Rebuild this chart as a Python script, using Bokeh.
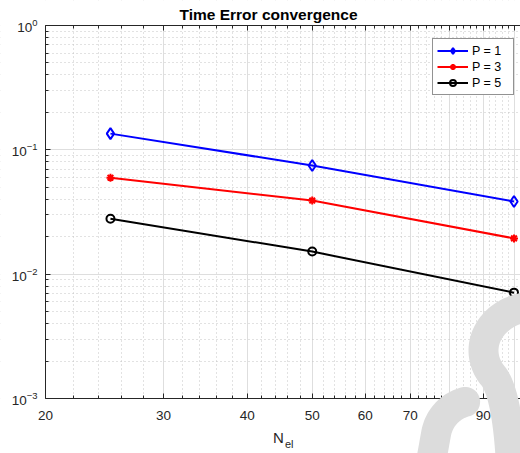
import numpy as np
from bokeh.plotting import figure
from bokeh.models import (Range1d, LogAxis, FixedTicker, LogTickFormatter, BasicTickFormatter,
                          Legend, LegendItem, Label, PolyAnnotation, BoxAnnotation)
from bokeh.embed import file_html
from bokeh.resources import INLINE

# --- data -------------------------------------------------------------
n_el = [25, 50, 100]
err_p1 = [0.135, 0.0748, 0.0384]
err_p3 = [0.0597, 0.0391, 0.0194]
err_p5 = [0.0279, 0.0152, 0.0071]
series_labels = ["P = 1", "P = 3", "P = 5"]

x_ticks = [20, 30, 40, 50, 60, 70, 80, 90, 100]
x_minor_ticks = [v for v in range(22, 100, 2) if v % 10]
y_ticks = [1e-3, 1e-2, 1e-1, 1e0]
y_minor_ticks = [m * 10.0 ** e for e in (-3, -2, -1) for m in range(2, 10)]
x_lim = (20, 100)
y_lim = (1e-3, 1e0)

FONT = "Liberation Sans"
AX = "#262626"

# The plotting frame covers the whole canvas; the axes box is placed inside it
# (pixel edges below) and the axes are pinned to the box edges.
W, H = 520, 453
BOX_L, BOX_R, BOX_T, BOX_B = 45, 513.5, 25, 398
ppd_x = (BOX_R - BOX_L) / np.log10(x_lim[1] / x_lim[0])
ppd_y = (BOX_B - BOX_T) / np.log10(y_lim[1] / y_lim[0])
x_range = Range1d(x_lim[0] / 10 ** (BOX_L / ppd_x), x_lim[1] * 10 ** ((W - BOX_R) / ppd_x))
y_range = Range1d(y_lim[0] / 10 ** ((H - BOX_B) / ppd_y), y_lim[1] * 10 ** (BOX_T / ppd_y))

p = figure(width=W, height=H, x_axis_type="log", y_axis_type="log",
           x_range=x_range, y_range=y_range,
           output_backend="svg", toolbar_location=None,
           min_border_left=0, min_border_right=0, min_border_top=0, min_border_bottom=0)
p.outline_line_color = None
p.background_fill_color = "white"
p.border_fill_color = "white"

xt = FixedTicker(ticks=x_ticks, minor_ticks=x_minor_ticks)
yt = FixedTicker(ticks=y_ticks, minor_ticks=y_minor_ticks)


def style_axis(ax):
    ax.axis_line_color = AX
    ax.axis_line_width = 1
    ax.major_tick_line_color = AX
    ax.minor_tick_line_color = AX
    ax.major_tick_in = 5
    ax.major_tick_out = 0
    ax.minor_tick_in = 3
    ax.minor_tick_out = 0
    ax.major_label_text_font = FONT
    ax.major_label_text_font_size = "13.5px"
    ax.major_label_text_color = AX


xa = p.xaxis[0]
xa.ticker = xt
xa.formatter = BasicTickFormatter()
xa.fixed_location = y_lim[0]
xa.bounds = (x_lim[0], x_range.end)
style_axis(xa)
xa.major_label_standoff = 12

ya = p.yaxis[0]
ya.ticker = yt
ya.formatter = LogTickFormatter()
ya.fixed_location = x_lim[0]
ya.bounds = y_lim
style_axis(ya)
ya.major_label_standoff = 8

top = LogAxis(ticker=xt, formatter=BasicTickFormatter(), fixed_location=y_lim[1],
              bounds=(x_lim[0], x_range.end))
style_axis(top)
top.major_label_text_color = None
top.major_label_standoff = 0
p.add_layout(top, "above")

for g, t in ((p.xgrid[0], xt), (p.ygrid[0], yt)):
    g.ticker = t
    g.grid_line_color = "#dedede"
    g.grid_line_width = 1
    g.minor_grid_line_color = "#c4c4c4"
    g.minor_grid_line_dash = "1 3"
    g.minor_grid_line_width = 1

# keep the grid inside the axes box
for box in (dict(top=y_lim[0]), dict(bottom=y_lim[1]), dict(right=x_lim[0])):
    p.add_layout(BoxAnnotation(**box, fill_color="white", fill_alpha=1,
                               line_color=None, level="underlay"))

# --- series -----------------------------------------------------------
styles = [
    (err_p1, "#0000ff", "diamond", 11),
    (err_p3, "#ff0000", "asterisk", 8),
    (err_p5, "#000000", "circle", 8),
]
items = []
for (vals, color, marker, size), lab in zip(styles, series_labels):
    ln = p.line(n_el, vals, line_color=color, line_width=2)
    sc = p.scatter(n_el, vals, marker=marker, size=size, line_color=color,
                   fill_color=None, line_width=2)
    items.append(LegendItem(label=lab, renderers=[ln, sc]))

legend = Legend(items=items, location=(432, 358))
legend.border_line_color = AX
legend.border_line_width = 1
legend.background_fill_color = "white"
legend.background_fill_alpha = 1
legend.label_text_font = FONT
legend.label_text_font_size = "12.5px"
legend.label_text_color = "black"
legend.glyph_width = 31
legend.glyph_height = 15
legend.label_height = 15
legend.label_width = 37
legend.label_standoff = 4
legend.spacing = 1
legend.padding = 4
legend.margin = 0
p.add_layout(legend)

# --- texts ------------------------------------------------------------
p.add_layout(Label(x=268, y=14, x_units="canvas", y_units="canvas",
                   text="Time Error convergence", text_align="center",
                   text_baseline="alphabetic", text_font=FONT, text_font_style="bold",
                   text_font_size="15.5px", text_color="black"))
p.add_layout(Label(x=278, y=437, x_units="canvas", y_units="canvas", text="N",
                   text_align="center", text_baseline="alphabetic", text_font=FONT,
                   text_font_size="15px", text_color=AX))
p.add_layout(Label(x=284.5, y=443, x_units="canvas", y_units="canvas", text="el",
                   text_align="left", text_baseline="alphabetic", text_font=FONT,
                   text_font_size="11px", text_color=AX))


# --- light grey stamp in the lower right corner ------------------------
def stroke_outline(cx, cy, hw):
    pts = np.column_stack([cx, cy])
    d = np.gradient(pts, axis=0)
    d /= np.linalg.norm(d, axis=1)[:, None]
    nrm = np.column_stack([-d[:, 1], d[:, 0]])
    left = pts + hw * nrm
    right = pts - hw * nrm
    phi = np.linspace(0, np.pi, 20)[:, None]
    end_cap = pts[-1] + hw * (nrm[-1] * np.cos(phi) + d[-1] * np.sin(phi))
    start_cap = pts[0] + hw * (-nrm[0] * np.cos(phi) - d[0] * np.sin(phi))
    ring = np.vstack([left, end_cap, right[::-1], start_cap])
    return list(ring[:, 0]), list(ring[:, 1])


# upper bowl: elliptic arc round the left, then a curve bending downwards
th = np.radians(np.linspace(-60, -215, 80))
bx = 535 + 52 * np.cos(th)
by = 350 + 44 * np.sin(th)
p0 = np.array([bx[-1], by[-1]])
tan = np.array([52 * np.sin(th[-1]), -44 * np.cos(th[-1])])
p1 = p0 + 24 * tan / np.linalg.norm(tan)
p2 = np.array([511.0, 475.0])
t = np.linspace(0, 1, 30)[1:, None]
bez = (1 - t) ** 2 * p0 + 2 * (1 - t) * t * p1 + t ** 2 * p2
cx1 = np.concatenate([bx, bez[:, 0]])
cy1 = np.concatenate([by, bez[:, 1]])

# lower hook: a leg rising from the bottom edge, curling to the right
th2 = np.radians(np.linspace(190, 255, 30))
ax_, ay_ = 475 + 40 * np.cos(th2), 440 + 40 * np.sin(th2)
leg = np.linspace(0, 1, 10)[:-1]
cx2 = np.concatenate([428.6 + (ax_[0] - 428.6) * leg, ax_])
cy2 = np.concatenate([472.0 + (ay_[0] - 472.0) * leg, ay_])

for cx, cy in ((cx1, cy1), (cx2, cy2)):
    xs, ys = stroke_outline(cx, cy, 15)
    p.add_layout(PolyAnnotation(xs=xs, ys=ys, xs_units="canvas", ys_units="canvas",
                                fill_color="#dcdcdc", fill_alpha=1, line_color=None,
                                level="overlay"))

open("out.html", "w").write(file_html(p, INLINE))
